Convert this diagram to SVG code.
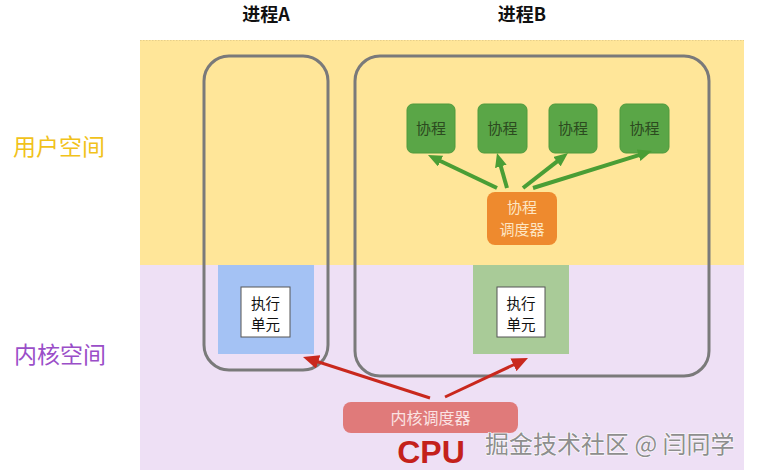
<svg xmlns="http://www.w3.org/2000/svg" width="761" height="475" viewBox="0 0 761 475">
  <defs>
    <style>
      .cjk { font-family: "Noto Sans CJK SC", "Noto Sans", sans-serif; }
      .title { font-size: 18px; font-weight: bold; fill: #111; text-anchor: middle; }
      .side { font-size: 23px; }
      .proc { fill: none; stroke: #7a7a7a; stroke-width: 3; }
      .wbox { fill: #ffffff; stroke: #555; stroke-width: 1; }
      .wtxt { font-size: 14.5px; fill: #111; text-anchor: middle; }
      .co { fill: #5aa647; stroke: #4e9a3c; stroke-width: 1; }
      .cotxt { font-size: 15px; fill: #2c4a20; text-anchor: middle; }
      .otxt { font-size: 15px; fill: #fde6c4; text-anchor: middle; }
      .garrow { stroke: #4a9e35; stroke-width: 4; fill: none; }
      .rarrow { stroke: #c9281d; stroke-width: 3; fill: none; }
    </style>
    <marker id="gHead" markerUnits="userSpaceOnUse" markerWidth="14" markerHeight="12" refX="2" refY="6" orient="auto">
      <path d="M0,0 L14,6 L0,12 z" fill="#4a9e35"/>
    </marker>
    <marker id="rHead" markerUnits="userSpaceOnUse" markerWidth="16" markerHeight="14" refX="2" refY="7" orient="auto">
      <path d="M0,0 L16,7 L0,14 z" fill="#c9281d"/>
    </marker>
  </defs>

  <rect x="0" y="0" width="761" height="475" fill="#ffffff"/>

  <g id="bands">
    <rect x="140" y="40" width="604" height="225" fill="#ffe699"/>
    <line x1="140" y1="40.5" x2="744" y2="40.5" stroke="#e6cf8a" stroke-width="1" stroke-dasharray="1.5 1.5"/>
    <rect x="140" y="265" width="604" height="205" fill="#eee0f5"/>
  </g>

  <g id="labels">
    <text class="cjk title" x="266" y="21">进程A</text>
    <text class="cjk title" x="522" y="21">进程B</text>
    <text class="cjk side" x="13" y="155" fill="#f1c21b">用户空间</text>
    <text class="cjk side" x="14" y="363" fill="#9a4ec8">内核空间</text>
  </g>

  <g id="execA-area">
    <rect x="218" y="265" width="96" height="89" fill="#a4c2f4"/>
  </g>
  <g id="execB-area">
    <rect x="473" y="265" width="96" height="89" fill="#a9cb98"/>
  </g>

  <g id="processA">
    <rect class="proc" x="204" y="56" width="124" height="314" rx="25"/>
  </g>
  <g id="processB">
    <rect class="proc" x="355" y="56" width="354" height="320" rx="25"/>
  </g>

  <g id="execA">
    <rect class="wbox" x="241" y="287" width="49" height="50"/>
    <text class="cjk wtxt" x="265.5" y="308.5">执行</text>
    <text class="cjk wtxt" x="265.5" y="330">单元</text>
  </g>
  <g id="execB">
    <rect class="wbox" x="497" y="287" width="48" height="50"/>
    <text class="cjk wtxt" x="521" y="308.5">执行</text>
    <text class="cjk wtxt" x="521" y="330">单元</text>
  </g>

  <g id="co1">
    <rect class="co" x="407" y="104" width="48" height="49" rx="6"/>
    <text class="cjk cotxt" x="431" y="134">协程</text>
  </g>
  <g id="co2">
    <rect class="co" x="478" y="104" width="49" height="49" rx="6"/>
    <text class="cjk cotxt" x="502.5" y="134">协程</text>
  </g>
  <g id="co3">
    <rect class="co" x="549" y="104" width="48" height="49" rx="6"/>
    <text class="cjk cotxt" x="573" y="134">协程</text>
  </g>
  <g id="co4">
    <rect class="co" x="620" y="104" width="49" height="49" rx="6"/>
    <text class="cjk cotxt" x="644.5" y="134">协程</text>
  </g>

  <g id="coScheduler">
    <rect x="487" y="192" width="70" height="53" rx="8" fill="#ee8a2e"/>
    <text class="cjk otxt" x="522" y="213">协程</text>
    <text class="cjk otxt" x="522" y="235">调度器</text>
  </g>

  <g id="kernelScheduler">
    <rect x="343" y="402" width="175" height="31" rx="8" fill="#e07a7a"/>
    <text class="cjk" x="430.5" y="424" font-size="16" fill="#fbe3e3" text-anchor="middle">内核调度器</text>
  </g>

  <g id="cpu">
    <text x="431" y="463" font-family="Liberation Sans, Arial, sans-serif" font-size="32" font-weight="bold" fill="#c4211b" text-anchor="middle">CPU</text>
  </g>

  <g id="connectors">
    <line class="garrow" x1="497" y1="188" x2="438.8" y2="160.2" marker-end="url(#gHead)"/>
    <line class="garrow" x1="507" y1="188" x2="500.3" y2="164.5" marker-end="url(#gHead)"/>
    <line class="garrow" x1="523" y1="188" x2="558.5" y2="160.4" marker-end="url(#gHead)"/>
    <line class="garrow" x1="533" y1="188" x2="640.5" y2="154.6" marker-end="url(#gHead)"/>
    <line class="rarrow" x1="430" y1="398" x2="316.3" y2="361.3" marker-end="url(#rHead)"/>
    <line class="rarrow" x1="445" y1="397" x2="515.3" y2="364" marker-end="url(#rHead)"/>
  </g>

  <g id="watermark">
    <text class="cjk" x="485" y="453" font-size="24" fill="#8e8e8e" stroke="#ffffff" stroke-width="1.2" paint-order="stroke">掘金技术社区 @ 闫同学</text>
  </g>
</svg>
